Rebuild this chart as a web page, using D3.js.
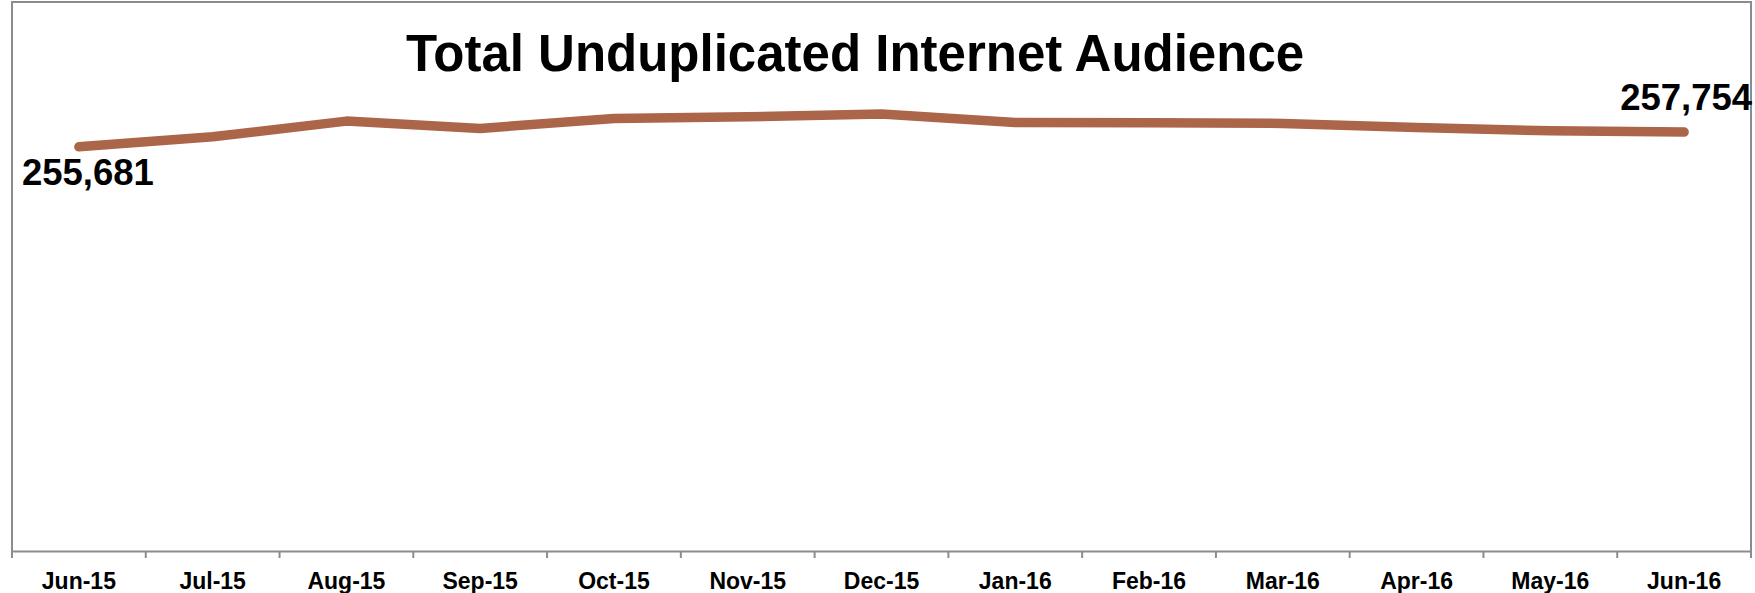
<!DOCTYPE html>
<html>
<head>
<meta charset="utf-8">
<script src="https://cdn.jsdelivr.net/npm/d3@7"></script>
<style>
  html, body { margin: 0; padding: 0; background: #fff; }
  svg { display: block; font-family: "Liberation Sans", Arial, sans-serif; }
</style>
</head>
<body>
<svg id="chart" width="1755" height="593"></svg>
<script>
// Monthly unduplicated internet audience (thousands)
const months = ["Jun-15", "Jul-15", "Aug-15", "Sep-15", "Oct-15", "Nov-15", "Dec-15",
                "Jan-16", "Feb-16", "Mar-16", "Apr-16", "May-16", "Jun-16"];
const audience = [255681, 257091, 259305, 258275, 259685, 259911, 260292,
                  259121, 259065, 258980, 258416, 257937, 257754];
const yDomain = [198700, 262000];
const titleText = "Total Unduplicated Internet Audience";

(function draw() {
  const svg = d3.select("#chart");
  const plotLeft = 12, plotRight = 1751, plotTop = 2, plotBottom = 551;

  const x = d3.scaleBand().domain(months).range([plotLeft, plotRight]).paddingInner(0).paddingOuter(0);
  const y = d3.scaleLinear().domain(yDomain).range([plotBottom, 102]);
  const cx = d => x(d) + x.bandwidth() / 2;

  // chart frame (top, left, right edges)
  svg.append("path")
    .attr("d", `M${plotLeft},${plotBottom}V${plotTop}H${plotRight}V${plotBottom}`)
    .attr("fill", "none")
    .attr("stroke", "#8c8c8c")
    .attr("stroke-width", 2);

  // category axis
  const axis = svg.append("g")
    .attr("transform", `translate(0,${plotBottom})`)
    .call(d3.axisBottom(x).tickSize(0).tickPadding(22));
  axis.select(".domain").attr("stroke", "#8c8c8c").attr("stroke-width", 2);
  axis.selectAll("text")
    .attr("font-family", "'Liberation Sans', Arial, sans-serif")
    .attr("font-size", 23)
    .attr("font-weight", "bold")
    .attr("fill", "#000");

  // tick marks on category boundaries
  const bounds = months.map(m => x(m)).concat([x(months[months.length - 1]) + x.bandwidth()]);
  axis.selectAll("line.bound")
    .data(bounds)
    .join("line")
    .attr("class", "bound")
    .attr("x1", d => d).attr("x2", d => d)
    .attr("y1", 0).attr("y2", 7)
    .attr("stroke", "#8c8c8c")
    .attr("stroke-width", 2);

  // title
  svg.append("text")
    .attr("x", 855)
    .attr("y", 71)
    .attr("text-anchor", "middle")
    .attr("font-size", 51)
    .attr("font-weight", "bold")
    .attr("fill", "#000")
    .text(titleText);

  // audience line
  const line = d3.line()
    .x((d, i) => cx(months[i]))
    .y(d => y(d));

  svg.append("path")
    .datum(audience)
    .attr("d", line)
    .attr("fill", "none")
    .attr("stroke", "#ab6549")
    .attr("stroke-width", 9.5)
    .attr("stroke-linecap", "round")
    .attr("stroke-linejoin", "round");

  // first and last value labels
  const fmt = d3.format(",");
  const n = audience.length - 1;
  svg.append("text")
    .attr("x", cx(months[0]) - 57)
    .attr("y", y(audience[0]) + 38)
    .attr("font-size", 36.5)
    .attr("font-weight", "bold")
    .attr("fill", "#000")
    .text(fmt(audience[0]));

  svg.append("text")
    .attr("x", cx(months[n]) + 68)
    .attr("y", y(audience[n]) - 22)
    .attr("text-anchor", "end")
    .attr("font-size", 36.5)
    .attr("font-weight", "bold")
    .attr("fill", "#000")
    .text(fmt(audience[n]));
})();
</script>
</body>
</html>
